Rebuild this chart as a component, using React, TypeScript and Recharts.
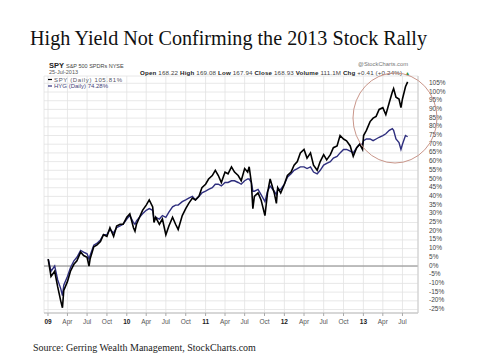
import React from 'react';
import { LineChart, Line, XAxis, YAxis, CartesianGrid, ReferenceLine } from 'recharts';

const dates = [
  '2009-01-02', '2009-01-15', '2009-02-01', '2009-02-15', '2009-03-01', '2009-03-09', '2009-03-15', '2009-04-01',
  '2009-04-15', '2009-05-01', '2009-05-15', '2009-06-01', '2009-06-15', '2009-07-01', '2009-07-10', '2009-07-15',
  '2009-08-01', '2009-08-15', '2009-09-01', '2009-09-15', '2009-10-01', '2009-10-15', '2009-11-01', '2009-11-15',
  '2009-12-01', '2009-12-15', '2010-01-01', '2010-01-15', '2010-02-01', '2010-02-08', '2010-02-15', '2010-03-01',
  '2010-03-15', '2010-04-01', '2010-04-15', '2010-05-01', '2010-05-07', '2010-05-15', '2010-06-01', '2010-06-15',
  '2010-07-01', '2010-07-15', '2010-08-01', '2010-08-15', '2010-08-27', '2010-09-15', '2010-10-01', '2010-10-15',
  '2010-11-01', '2010-11-15', '2010-12-01', '2010-12-15', '2011-01-01', '2011-01-15', '2011-02-01', '2011-02-15',
  '2011-03-01', '2011-03-15', '2011-04-01', '2011-04-15', '2011-05-01', '2011-05-15', '2011-06-01', '2011-06-15',
  '2011-07-01', '2011-07-15', '2011-07-22', '2011-08-01', '2011-08-08', '2011-08-15', '2011-09-01', '2011-09-15',
  '2011-10-03', '2011-10-15', '2011-10-27', '2011-11-15', '2011-11-25', '2011-12-01', '2011-12-15', '2012-01-01',
  '2012-01-15', '2012-02-01', '2012-02-15', '2012-03-01', '2012-03-15', '2012-04-01', '2012-04-15', '2012-05-01',
  '2012-05-15', '2012-06-01', '2012-06-15', '2012-07-01', '2012-07-15', '2012-08-01', '2012-08-15', '2012-09-01',
  '2012-09-15', '2012-10-01', '2012-10-15', '2012-11-01', '2012-11-15', '2012-12-01', '2012-12-15', '2012-12-28',
  '2013-01-02', '2013-01-15', '2013-02-01', '2013-02-15', '2013-03-01', '2013-03-15', '2013-04-01', '2013-04-15',
  '2013-05-01', '2013-05-15', '2013-05-21', '2013-06-01', '2013-06-15', '2013-06-24', '2013-07-01', '2013-07-15',
  '2013-07-25',
];

const spy = [
  4, -6, -3, -12, -20, -24, -14, -9,
  -3, 1, 3, 8, 6, 5, 0, 4,
  11, 12, 14, 18, 17, 22, 17, 23,
  24, 24, 28, 30, 22, 20, 24, 28,
  32, 35, 38, 34, 25, 28, 24, 27,
  18, 23, 28, 24, 21, 29, 33, 36,
  39, 38, 40, 45, 47, 50, 52, 55,
  52, 48, 54, 53, 57, 54, 52, 49,
  56, 54, 57, 48, 33, 40, 42, 38,
  29, 42, 50, 42, 36, 45, 42, 47,
  52, 54, 58, 60, 65, 67, 62, 65,
  58, 55, 60, 64, 61, 64, 68, 69,
  75, 73, 72, 69, 63, 68, 70, 67,
  75, 78, 83, 85, 86, 90, 91, 87,
  94, 100, 102, 97, 96, 91, 96, 103,
  105.81,
];

const hyg = [
  4, -3, 0, -8, -13, -17, -11, -6,
  -1, 3, 5, 9, 8, 7, 4, 6,
  12, 13, 15, 18, 18, 21, 19, 22,
  23, 24, 27, 29, 25, 24, 26, 28,
  30, 32, 33, 32, 27, 28, 27, 29,
  28, 31, 34, 35, 35, 37, 38, 39,
  40, 38, 40, 42, 43, 44, 45, 47,
  47, 46, 48, 48, 49, 49, 48, 47,
  49, 50, 50, 48, 43, 43, 44, 41,
  37, 43, 46, 43, 41, 44, 44, 47,
  51, 53, 55, 56, 57, 57, 56, 57,
  54, 53, 55, 58, 59, 60, 62, 63,
  65, 67, 67, 66, 65, 68, 70, 70,
  72, 73, 73, 72, 73, 74, 75, 76,
  78, 79, 78, 73, 71, 67, 70, 75,
  74.28,
];

const yTicks = [-25, -20, -15, -10, -5, 0, 5, 10, 15, 20, 25, 30, 35, 40, 45, 50, 55, 60, 65, 70, 75, 80, 85, 90, 95, 100, 105];

const xTickDates = [
  '2009-01-01', '2009-04-01', '2009-07-01', '2009-10-01',
  '2010-01-01', '2010-04-01', '2010-07-01', '2010-10-01',
  '2011-01-01', '2011-04-01', '2011-07-01', '2011-10-01',
  '2012-01-01', '2012-04-01', '2012-07-01', '2012-10-01',
  '2013-01-01', '2013-04-01', '2013-07-01',
];
const xTickLabels = [
  '09', 'Apr', 'Jul', 'Oct', '10', 'Apr', 'Jul', 'Oct', '11', 'Apr', 'Jul', 'Oct',
  '12', 'Apr', 'Jul', 'Oct', '13', 'Apr', 'Jul',
];

const DAY = 86400000;
const xTicks = xTickDates.map((d) => Date.parse(d));
const xMin = Date.parse('2009-01-01') - 18.5 * DAY;
const xMax = Date.parse('2013-09-11');

const data = dates.map((d, i) => ({ t: Date.parse(d), spy: spy[i], hyg: hyg[i] }));

const SANS = '"Liberation Sans", Arial, sans-serif';
const SERIF = '"Liberation Serif", "Times New Roman", serif';

const XTick = (props: any) => {
  const { x, y, payload } = props;
  const idx = xTicks.indexOf(payload.value);
  const label = idx >= 0 ? xTickLabels[idx] : '';
  const isYear = /^\d+$/.test(label);
  return (
    <text x={x} y={y + 6} textAnchor="middle" fontSize={6.5} fontFamily={SANS}
      fontWeight={isYear ? 'bold' : 'normal'} fill={isYear ? '#222' : '#555'}>
      {label}
    </text>
  );
};

const YTick = (props: any) => {
  const { x, y, payload } = props;
  return (
    <text x={x + 3} y={y + 1.5} textAnchor="start" fontSize={6.5} fontFamily={SANS} fill="#444">
      {payload.value}%
    </text>
  );
};

export default function App() {
  return (
    <div style={{ position: 'absolute', left: 0, top: 0, width: 480, height: 360, background: '#fff' }}>
      <LineChart width={480} height={360} data={data}
        margin={{ top: 76, right: 22, left: 44, bottom: 35 }}>
        <CartesianGrid stroke="#e2e2e2" strokeWidth={0.8} />
        <XAxis dataKey="t" type="number" scale="time" domain={[xMin, xMax]} ticks={xTicks}
          allowDataOverflow height={12} tick={<XTick />} tickLine={{ stroke: '#aaa' }} tickSize={3}
          axisLine={{ stroke: '#bbb' }} interval={0} />
        <YAxis orientation="right" type="number" domain={[-27, 109.2]} ticks={yTicks}
          allowDataOverflow width={40} tick={<YTick />} tickLine={false} axisLine={{ stroke: '#ccc' }} interval={0} />
        <ReferenceLine y={0} stroke="#888" strokeWidth={1} />
        <Line type="linear" dataKey="hyg" stroke="#2e2e7e" strokeWidth={1.4} dot={false} isAnimationActive={false} />
        <Line type="linear" dataKey="spy" stroke="#000" strokeWidth={1.6} dot={false} isAnimationActive={false} />
      </LineChart>
      <svg width={480} height={360} style={{ position: 'absolute', left: 0, top: 0, pointerEvents: 'none' }}>
        <text x={30} y={45} fontSize={21} fontFamily={SERIF} fill="#111" textLength={397} lengthAdjust="spacingAndGlyphs">
          High Yield Not Confirming the 2013 Stock Rally
        </text>
        <text x={49} y={67.5} fontFamily={SANS} fill="#222">
          <tspan fontSize={7.5} fontWeight="bold">SPY</tspan>
          <tspan fontSize={5.5} fill="#444" dx={2}>S&amp;P 500 SPDRs NYSE</tspan>
        </text>
        <text x={358} y={65.5} fontSize={5.8} fontFamily={SANS} fill="#777">@StockCharts.com</text>
        <text x={49} y={73.5} fontSize={5.5} fontFamily={SANS} fill="#555">25-Jul-2013</text>
        <text x={140} y={75} fontSize={6.2} fontFamily={SANS} fill="#444" textLength={262} lengthAdjust="spacing">
          <tspan fontWeight="bold" fill="#222">Open</tspan> 168.22 <tspan fontWeight="bold" fill="#222">High</tspan> 169.08 <tspan fontWeight="bold" fill="#222">Low</tspan> 167.94 <tspan fontWeight="bold" fill="#222">Close</tspan> 168.93 <tspan fontWeight="bold" fill="#222">Volume</tspan> 111.1M <tspan fontWeight="bold" fill="#222">Chg</tspan> +0.41 (+0.24%)
        </text>
        <text x={405} y={75} fontSize={5} fontFamily={SANS} fill="#2a8a2a">▲</text>
        <line x1={48} y1={79.5} x2={52} y2={79.5} stroke="#000" strokeWidth={1.2} />
        <text x={54} y={81.5} fontSize={6} fontFamily={SANS} fill="#556" textLength={68} lengthAdjust="spacing">SPY (Daily) 105.81%</text>
        <line x1={48} y1={86} x2={52} y2={86} stroke="#2e2e7e" strokeWidth={1.2} />
        <text x={54} y={88} fontSize={6} fontFamily={SANS} fill="#447">HYG (Daily) 74.28%</text>
        <ellipse cx={395} cy={118} rx={42} ry={45} fill="none" stroke="#c9968a" strokeWidth={1} />
        <text x={33} y={351} fontSize={10} fontFamily={SERIF} fill="#222">
          Source: Gerring Wealth Management, StockCharts.com
        </text>
      </svg>
    </div>
  );
}
